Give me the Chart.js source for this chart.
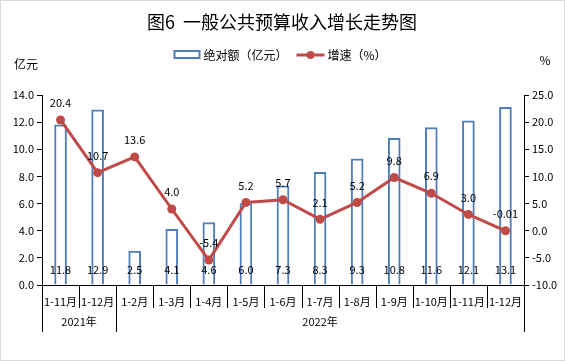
<!DOCTYPE html>
<html>
<head>
<meta charset="utf-8">
<script src="https://cdn.jsdelivr.net/npm/chart.js@4"></script>
<style>
  html, body { margin: 0; padding: 0; background: #fff; }
  #wrap { width: 565px; height: 361px; position: relative; }
</style>
</head>
<body>
<div id="wrap"><canvas id="chart" width="565" height="361"></canvas></div>
<script>
// data
const categories = ['1-11月', '1-12月', '1-2月', '1-3月', '1-4月', '1-5月', '1-6月',
                    '1-7月', '1-8月', '1-9月', '1-10月', '1-11月', '1-12月'];
const amount = [11.8, 12.9, 2.5, 4.1, 4.6, 6.0, 7.3, 8.3, 9.3, 10.8, 11.6, 12.1, 13.1];
const growth = [20.4, 10.7, 13.6, 4.0, -5.4, 5.2, 5.7, 2.1, 5.2, 9.8, 6.9, 3.0, -0.01];
const growthLabels = ['20.4', '10.7', '13.6', '4.0', '-5.4', '5.2', '5.7', '2.1', '5.2', '9.8', '6.9', '3.0', '-0.01'];
const years = [{ label: '2021年', from: 0, to: 2 }, { label: '2022年', from: 2, to: 13 }];

const titleText = '图6  一般公共预算收入增长走势图';
const barName = '绝对额（亿元）';
const lineName = '增速（%）';

const colors = {
    bar: '#4F7EBA',
    line: '#BE4B48',
    text: '#000000',
    axis: '#000000',
    frame: '#D9D9D9'
};
const FONT = "'Noto Sans CJK SC', 'Microsoft YaHei', sans-serif";

Chart.defaults.font.family = FONT;
Chart.defaults.font.size = 11;
Chart.defaults.color = colors.text;

// frame, title, legend, units, labels and the two-level category axis
const decor = {
    id: 'decor',
    beforeDraw(chart) {
        const ctx = chart.ctx;
        ctx.save();
        ctx.fillStyle = '#fff';
        ctx.fillRect(0, 0, chart.width, chart.height);
        ctx.strokeStyle = colors.frame;
        ctx.lineWidth = 1;
        ctx.strokeRect(0.5, 0.5, chart.width - 1, chart.height - 1);
        ctx.restore();
    },
    afterDatasetsDraw(chart) {
        const ctx = chart.ctx;
        const y = chart.scales.y;
        ctx.save();
        ctx.fillStyle = colors.text;
        ctx.font = '11px ' + FONT;
        ctx.textAlign = 'center';
        ctx.textBaseline = 'middle';
        // bar values near the base
        chart.getDatasetMeta(1).data.forEach((bar, i) => {
            ctx.fillText(amount[i].toFixed(1), bar.x, y.getPixelForValue(0) - 15);
        });
        // growth values above points
        chart.getDatasetMeta(0).data.forEach((pt, i) => {
            ctx.fillText(growthLabels[i], pt.x, pt.y - 17);
        });
        ctx.restore();
    },
    afterDraw(chart) {
        const ctx = chart.ctx;
        const area = chart.chartArea;
        const x = chart.scales.x;
        const half = (x.getPixelForTick(1) - x.getPixelForTick(0)) / 2;
        ctx.save();

        // title
        ctx.fillStyle = colors.text;
        ctx.textAlign = 'center';
        ctx.textBaseline = 'middle';
        ctx.font = '18px ' + FONT;
        ctx.fillText(titleText, 282, 22);

        // legend, centred around x = 280
        ctx.font = '12px ' + FONT;
        const w1 = ctx.measureText(barName).width;
        const w2 = ctx.measureText(lineName).width;
        const total = 26 + 4 + w1 + 9 + 28 + 3 + w2;
        let lx = 280 - total / 2;
        ctx.strokeStyle = colors.bar;
        ctx.lineWidth = 2;
        ctx.strokeRect(lx + 1, 51, 25, 7);
        lx += 30;
        ctx.textAlign = 'left';
        ctx.fillText(barName, lx, 55);
        lx += w1 + 9;
        ctx.strokeStyle = colors.line;
        ctx.lineWidth = 3;
        ctx.beginPath();
        ctx.moveTo(lx, 55);
        ctx.lineTo(lx + 28, 55);
        ctx.stroke();
        ctx.fillStyle = colors.line;
        ctx.beginPath();
        ctx.arc(lx + 14, 55, 4, 0, Math.PI * 2);
        ctx.fill();
        lx += 31;
        ctx.fillStyle = colors.text;
        ctx.fillText(lineName, lx, 55);

        // units
        ctx.font = '12px ' + FONT;
        ctx.textAlign = 'center';
        ctx.fillText('亿元', 26, 64);
        ctx.fillText('%', 545, 60);

        // category separators and year groups
        ctx.strokeStyle = colors.axis;
        ctx.lineWidth = 1;
        const majors = [0, 2, categories.length];
        for (let i = 0; i <= categories.length; i++) {
            const px = Math.round(x.getPixelForTick(0) - half + i * half * 2) + 0.5;
            const len = majors.includes(i) ? 47 : 23;
            ctx.beginPath();
            ctx.moveTo(px, area.bottom);
            ctx.lineTo(px, area.bottom + len);
            ctx.stroke();
        }
        ctx.font = '11px ' + FONT;
        years.forEach(g => {
            const left = x.getPixelForTick(g.from) - half;
            const right = x.getPixelForTick(g.to - 1) + half;
            ctx.fillText(g.label, (left + right) / 2, area.bottom + 37);
        });
        ctx.restore();
    }
};

new Chart(document.getElementById('chart'), {
    data: {
        labels: categories,
        datasets: [
            {
                type: 'line',
                label: lineName,
                data: growth,
                yAxisID: 'y1',
                borderColor: colors.line,
                backgroundColor: colors.line,
                borderWidth: 3,
                pointRadius: 4.5,
                pointBackgroundColor: colors.line,
                pointBorderWidth: 0,
                tension: 0,
                order: 0
            },
            {
                type: 'bar',
                label: barName,
                data: amount,
                yAxisID: 'y',
                backgroundColor: '#ffffff',
                borderColor: colors.bar,
                borderWidth: 2,
                barThickness: 12,
                order: 1
            }
        ]
    },
    options: {
        responsive: false,
        animation: false,
        layout: { padding: { top: 95, left: 0, right: 0, bottom: 0 } },
        plugins: {
            legend: { display: false },
            title: { display: false },
            tooltip: { enabled: false }
        },
        scales: {
            x: {
                offset: true,
                grid: { display: false },
                border: { display: true, color: colors.axis, width: 1 },
                ticks: { autoSkip: false, maxRotation: 0, padding: 2, color: colors.text, font: { size: 11 } },
                afterFit: (s) => { s.height = 76; }
            },
            y: {
                position: 'left',
                min: 0,
                max: 14,
                ticks: { stepSize: 2, padding: 3, color: colors.text, callback: (v) => v.toFixed(1) },
                grid: { drawOnChartArea: false, drawTicks: true, tickLength: 5, color: colors.axis },
                border: { display: true, color: colors.axis, width: 1 },
                afterFit: (s) => { s.width = 42; }
            },
            y1: {
                position: 'right',
                min: -10,
                max: 25,
                ticks: { stepSize: 5, padding: 3, color: colors.text, callback: (v) => v.toFixed(1) },
                grid: { drawOnChartArea: false, drawTicks: true, tickLength: 5, color: colors.axis },
                border: { display: true, color: colors.axis, width: 1 },
                afterFit: (s) => { s.width = 41; }
            }
        }
    },
    plugins: [decor]
});
</script>
</body>
</html>
